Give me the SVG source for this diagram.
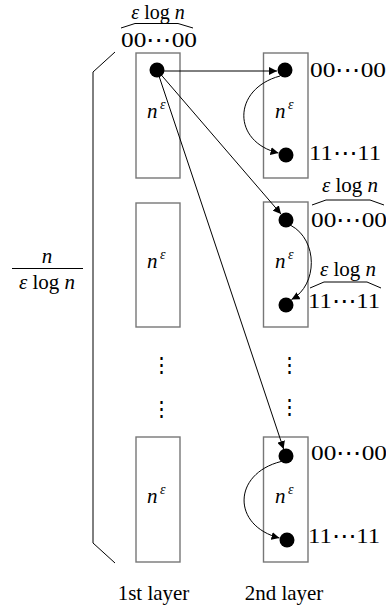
<svg xmlns="http://www.w3.org/2000/svg" width="386" height="613" viewBox="0 0 386 613" font-family="'Liberation Serif', 'DejaVu Serif', serif">
<style>
text{font-family:'Liberation Serif',serif;font-size:21px;fill:#000}
.i{font-style:italic}
.sup{font-style:italic;font-size:14px}
.box{fill:#fff;stroke:#777;stroke-width:1.4}
.dot{fill:#000}
.ln{fill:none;stroke:#000;stroke-width:1}
.br{fill:none;stroke:#000;stroke-width:1}
</style>
<defs>
<marker id="ah" markerUnits="userSpaceOnUse" markerWidth="8" markerHeight="8" refX="7" refY="3.5" orient="auto" viewBox="0 0 7 7">
<path d="M0,0 L7,3.5 L0,7 z" fill="#000"/>
</marker>
</defs>
<g id="top-label">
<text x="158" y="19" text-anchor="middle" style="font-size:20px"><tspan class="i">ε</tspan> log <tspan class="i">n</tspan></text>
<path class="br" d="M121,28 L135,23.5 L178,23.5 L193,28"/>
<text x="121" y="47" textLength="76" lengthAdjust="spacingAndGlyphs">00⋯00</text>
</g>
<g id="left-brace">
<path class="br" d="M115,52 L93,72 L93,543 L115,563"/>
<text x="47" y="263" text-anchor="middle" class="i">n</text>
<line x1="12" y1="268.5" x2="83" y2="268.5" stroke="#000" stroke-width="1"/>
<text x="47" y="289" text-anchor="middle"><tspan class="i">ε</tspan> log <tspan class="i">n</tspan></text>
</g>
<g id="L1">
<rect class="box" x="136" y="53" width="44" height="125"/>
<text x="147" y="118" class="i">n</text><text x="160" y="109" class="sup">ε</text>
<circle class="dot" cx="157" cy="70" r="7.5"/>
</g>
<g id="L2">
<rect class="box" x="136" y="203" width="44" height="124"/>
<text x="147" y="268" class="i">n</text><text x="160" y="259" class="sup">ε</text>
</g>
<g id="L3">
<rect class="box" x="136" y="437" width="44" height="125"/>
<text x="147" y="503" class="i">n</text><text x="160" y="494" class="sup">ε</text>
</g>
<g id="vdots">
<text x="161" y="372" text-anchor="middle">⋮</text>
<text x="161" y="416" text-anchor="middle">⋮</text>
<text x="289" y="372" text-anchor="middle">⋮</text>
<text x="289" y="414" text-anchor="middle">⋮</text>
</g>
<g id="R1">
<rect class="box" x="263.5" y="53" width="44.5" height="125"/>
<text x="275" y="118" class="i">n</text><text x="288" y="109" class="sup">ε</text>
<circle class="dot" cx="285" cy="70" r="7.5"/>
<circle class="dot" cx="286" cy="155" r="7.5"/>
<text x="310" y="77" textLength="76" lengthAdjust="spacingAndGlyphs">00⋯00</text>
<text x="309" y="160" textLength="72" lengthAdjust="spacingAndGlyphs">11⋯11</text>
</g>
<g id="R2">
<rect class="box" x="263.5" y="202" width="44.5" height="125"/>
<text x="275" y="268" class="i">n</text><text x="288" y="259" class="sup">ε</text>
<circle class="dot" cx="286" cy="220" r="7.5"/>
<circle class="dot" cx="286" cy="305" r="7.5"/>
<text x="350" y="192" text-anchor="middle"><tspan class="i">ε</tspan> log <tspan class="i">n</tspan></text>
<path class="br" d="M312,205 L326,200 L370,200 L384,205"/>
<text x="311" y="227" textLength="76" lengthAdjust="spacingAndGlyphs">00⋯00</text>
<text x="348" y="276" text-anchor="middle"><tspan class="i">ε</tspan> log <tspan class="i">n</tspan></text>
<path class="br" d="M310,288 L324,282 L367,282 L381,288"/>
<text x="308" y="308" textLength="72" lengthAdjust="spacingAndGlyphs">11⋯11</text>
</g>
<g id="R3">
<rect class="box" x="263.5" y="437" width="44.5" height="125"/>
<text x="275" y="503" class="i">n</text><text x="288" y="494" class="sup">ε</text>
<circle class="dot" cx="286" cy="456" r="7.5"/>
<circle class="dot" cx="287" cy="540" r="7.5"/>
<text x="311" y="460" textLength="76" lengthAdjust="spacingAndGlyphs">00⋯00</text>
<text x="308" y="543" textLength="72" lengthAdjust="spacingAndGlyphs">11⋯11</text>
</g>
<g id="connectors">
<path class="ln" d="M157,71 L277,71" marker-end="url(#ah)"/>
<path class="ln" d="M157,70 L281,214" marker-end="url(#ah)"/>
<path class="ln" d="M157,70 L283.6,449" marker-end="url(#ah)"/>
<path class="ln" d="M280,76 C232,89 232,142 278.5,153" marker-end="url(#ah)"/>
<path class="ln" d="M291,225.5 C318,240 318,285 291.5,299.5" marker-end="url(#ah)"/>
<path class="ln" d="M281,461.5 C232,474 232,526 279.5,538" marker-end="url(#ah)"/>
</g>
<g id="layer-labels">
<text x="153.5" y="600" text-anchor="middle">1st layer</text>
<text x="284" y="600" text-anchor="middle">2nd layer</text>
</g>
</svg>
